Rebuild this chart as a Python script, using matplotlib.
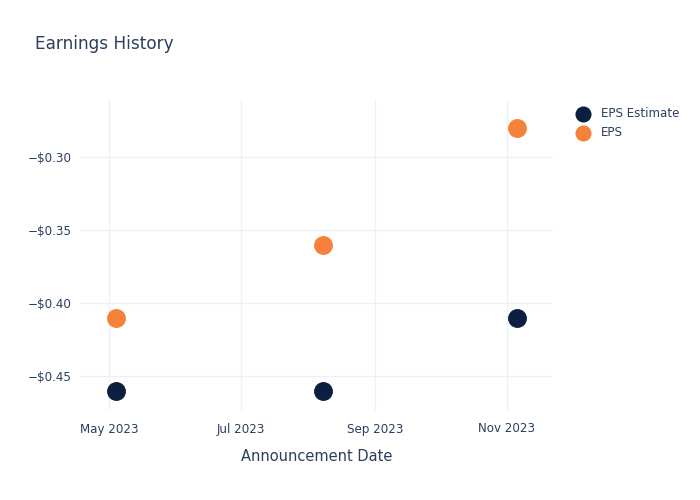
import numpy as np
import pandas as pd
import matplotlib
matplotlib.use("Agg")
import matplotlib.pyplot as plt
import matplotlib.dates as mdates
from matplotlib.ticker import FuncFormatter

# data
dates = pd.to_datetime(["2023-05-04", "2023-08-08", "2023-11-06"])
eps_estimate = [-0.46, -0.46, -0.41]
eps_actual = [-0.41, -0.36, -0.28]

text_col = "#2a3f5f"
grid_col = "#eef0f5"
navy = "#0c1f40"
orange = "#f5813a"

fig = plt.figure(figsize=(7, 5), dpi=100)
ax = fig.add_axes([80 / 700, 90 / 500, 473 / 700, 310 / 500])

ax.scatter(dates, eps_estimate, s=185, color=navy, label="EPS Estimate", zorder=3, linewidths=0)
ax.scatter(dates, eps_actual, s=185, color=orange, label="EPS", zorder=3, linewidths=0)

ax.set_xlim(pd.Timestamp("2023-04-17 12:00"), pd.Timestamp("2023-11-22 12:00"))
ax.set_ylim(-0.4733, -0.261)

ax.xaxis.set_major_locator(mdates.MonthLocator(bymonth=[5, 7, 9, 11]))
ax.xaxis.set_major_formatter(mdates.DateFormatter("%b %Y"))
ax.set_yticks([-0.45, -0.40, -0.35, -0.30])
ax.yaxis.set_major_formatter(FuncFormatter(lambda v, p: "\u2212$%.2f" % abs(v)))

for s in ax.spines.values():
    s.set_visible(False)
ax.grid(True, color=grid_col, linewidth=1)
ax.set_axisbelow(True)
ax.tick_params(length=0, labelsize=8.6, colors=text_col, pad=6)
ax.tick_params(axis="x", pad=9)

ax.set_xlabel("Announcement Date", fontsize=10.5, color=text_col, labelpad=10)
fig.text(35 / 700, 1 - 44 / 500, "Earnings History", fontsize=12.2, color=text_col, va="center")

leg = ax.legend(loc="upper left", bbox_to_anchor=(571 / 700, 1 - 102 / 500),
                bbox_transform=fig.transFigure, frameon=False, fontsize=8.6,
                markerscale=0.85, handletextpad=0.9, labelspacing=0.55,
                borderaxespad=0, handlelength=1.2)
for t in leg.get_texts():
    t.set_color(text_col)

fig.savefig("out.png", dpi=100)
